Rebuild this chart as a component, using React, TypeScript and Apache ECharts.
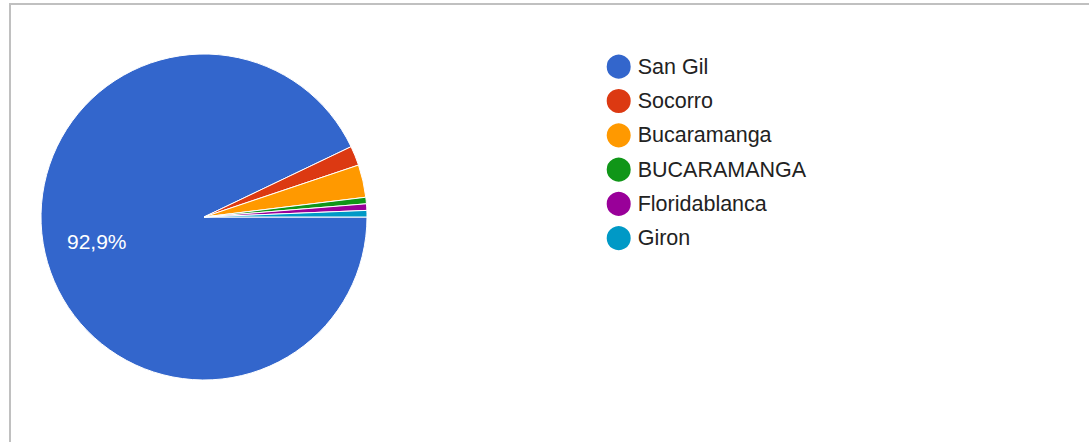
import React, { useEffect, useRef } from "react";
import * as echarts from "echarts";

const categories = ["San Gil", "Socorro", "Bucaramanga", "BUCARAMANGA", "Floridablanca", "Giron"];
const values = [144, 3, 5, 1, 1, 1];
const colors = ["#3366cc", "#dc3912", "#ff9900", "#109618", "#990099", "#0099c6"];
const labelFormatter = (p: any) => p.percent.toFixed(1).replace(".", ",") + "%";

export default function App() {
  const ref = useRef<HTMLDivElement>(null);
  useEffect(() => {
    document.body.style.margin = "0";
    const chart = echarts.init(ref.current!, null, { renderer: "svg" });
    const data = categories.map((name, i) => ({ name, value: values[i] }));
    chart.setOption({
      animation: false,
      color: colors,
      legend: {
        orient: "vertical",
        left: 599.7,
        top: 47.7,
        icon: "circle",
        itemWidth: 26,
        itemHeight: 26,
        itemGap: 6.3,
        selectedMode: false,
        textStyle: {
          fontSize: 21.5,
          lineHeight: 26,
          color: "#222222",
          fontFamily: "Arial, 'Liberation Sans', sans-serif",
          padding: [0, 0, 0, 1],
        },
        data: categories,
      },
      series: [
        {
          type: "pie",
          center: [204, 217],
          radius: [0, 163],
          startAngle: 0,
          clockwise: true,
          silent: true,
          itemStyle: { borderColor: "#ffffff", borderWidth: 1 },
          label: { show: false },
          labelLine: { show: false },
          data,
        },
        {
          type: "pie",
          center: [204, 217],
          radius: [0, 214],
          startAngle: 0,
          clockwise: true,
          silent: true,
          itemStyle: { color: "rgba(0,0,0,0)" },
          labelLine: { show: false },
          label: {
            show: true,
            position: "inside",
            formatter: labelFormatter,
            color: "#ffffff",
            fontSize: 21,
            fontFamily: "Arial, 'Liberation Sans', sans-serif",
          },
          data: data.map((d, i) => ({
            ...d,
            label: { show: i === 0 },
          })),
        },
      ],
    });
    return () => chart.dispose();
  }, []);
  return (
    <div style={{ position: "absolute", left: 0, top: 0, width: 1089, height: 442, background: "#fff" }}>
      <div
        style={{
          position: "absolute",
          left: 9,
          top: 3,
          width: 1100,
          height: 460,
          borderTop: "2px solid #c0c0c0",
          borderLeft: "2px solid #c0c0c0",
        }}
      />
      <div ref={ref} style={{ position: "absolute", left: 0, top: 0, width: 1089, height: 442 }} />
    </div>
  );
}
